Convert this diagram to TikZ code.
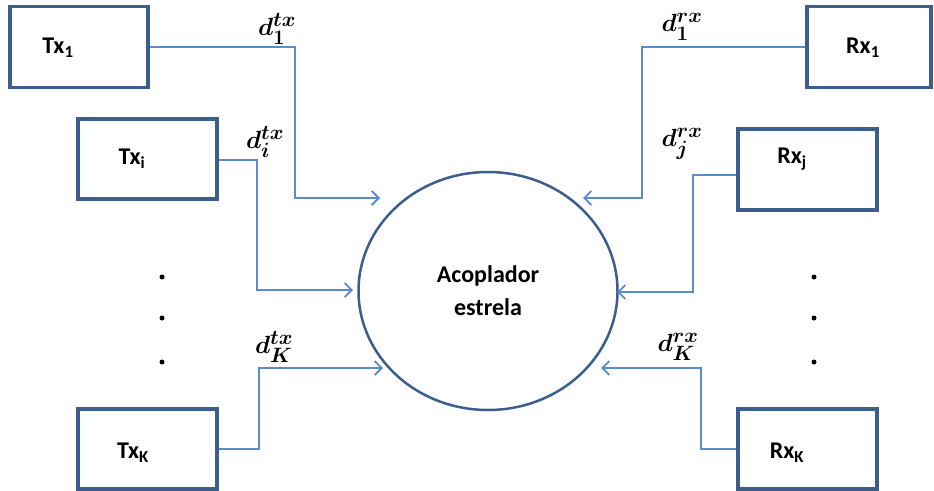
\documentclass[tikz,border=0pt]{standalone}
\usepackage{amsmath,bm}
\usepackage{fontspec}
\setmainfont{Carlito}
\usepackage{xcolor}
\usetikzlibrary{arrows.meta,positioning,shapes.geometric}
\definecolor{boxblue}{HTML}{3B5E8C}
\definecolor{lineblue}{HTML}{5B8BC8}

\begin{document}
\begin{tikzpicture}[x=1pt,y=-1pt,>={Straight Barb[length=7pt,width=14pt]},
  unit/.style={draw=boxblue,line width=3.5pt,minimum width=139pt,minimum height=81pt},
  tag/.style={font=\fontsize{24}{28}\selectfont\bfseries},
  link/.style={draw=lineblue,line width=1.8pt,->},
  dist/.style={font=\fontsize{28}{32}\selectfont\boldmath}]
\useasboundingbox (0,0) rectangle (934,490);
% Coupler
\node[ellipse,draw=boxblue,line width=2.5pt,minimum width=259pt,minimum height=238pt,align=center,font=\fontsize{24}{33}\selectfont\bfseries] (coupler) at (488,291) {Acoplador\\estrela};
% Transmitters
\node[unit,minimum width=138pt] (tx1) at (79,47) {};
\node[tag] (tx1txt) at (58,48) {Tx\textsubscript{1}};
\node[unit,minimum height=80pt] (txi) at (147.5,159) {};
\node[tag] (txitxt) at (132,159) {Tx\textsubscript{i}};
\node[unit,minimum height=80pt] (txk) at (147.5,449) {};
\node[tag] (txktxt) at (133,453) {Tx\textsubscript{K}};
% Receivers
\node[unit,minimum width=124pt] (rx1) at (869,47) {};
\node[tag] (rx1txt) at (863,48) {Rx\textsubscript{1}};
\node[unit] (rxj) at (807.5,169.5) {};
\node[tag] (rxjtxt) at (792,159) {Rx\textsubscript{j}};
\node[unit,minimum height=80pt] (rxk) at (807.5,449) {};
\node[tag] (rxktxt) at (787,453) {Rx\textsubscript{K}};
% Arrow ends at the coupler
\coordinate (a1) at (380,198);
\coordinate (a2) at (353,290);
\coordinate (a3) at (383,368);
\coordinate (b1) at (583,198);
\coordinate (b2) at (617,292);
\coordinate (b3) at (601,368);
\draw[link] (tx1.east) -- ++(145,0) |- (a1);
\draw[link] ([yshift=-1pt]txi.east) -- ++(38,0) |- (a2);
\draw[link] (txk.east) -- ++(40,0) |- (a3);
\draw[link] (rx1.west) -- ++(-163,0) |- (b1);
\draw[link] ([yshift=-5.5pt]rxj.west) -- ++(-43,0) |- (b2);
\draw[link] (rxk.west) -- ++(-35,0) |- (b3);
% Distances
\node[dist] (d1t) at (277,29) {$d_1^{tx}$};
\node[dist] (dit) at (265,142) {$d_i^{tx}$};
\node[dist] (dkt) at (274,347) {$d_K^{tx}$};
\node[dist] (d1r) at (682,27) {$d_1^{rx}$};
\node[dist] (djr) at (682,144) {$d_j^{rx}$};
\node[dist] (dkr) at (678,347) {$d_K^{rx}$};
% Dots
\foreach \y in {277,318,362} {
  \fill (162,\y) circle (2.5pt);
  \fill (814,\y) circle (2.5pt);
}
\end{tikzpicture}
\end{document}
